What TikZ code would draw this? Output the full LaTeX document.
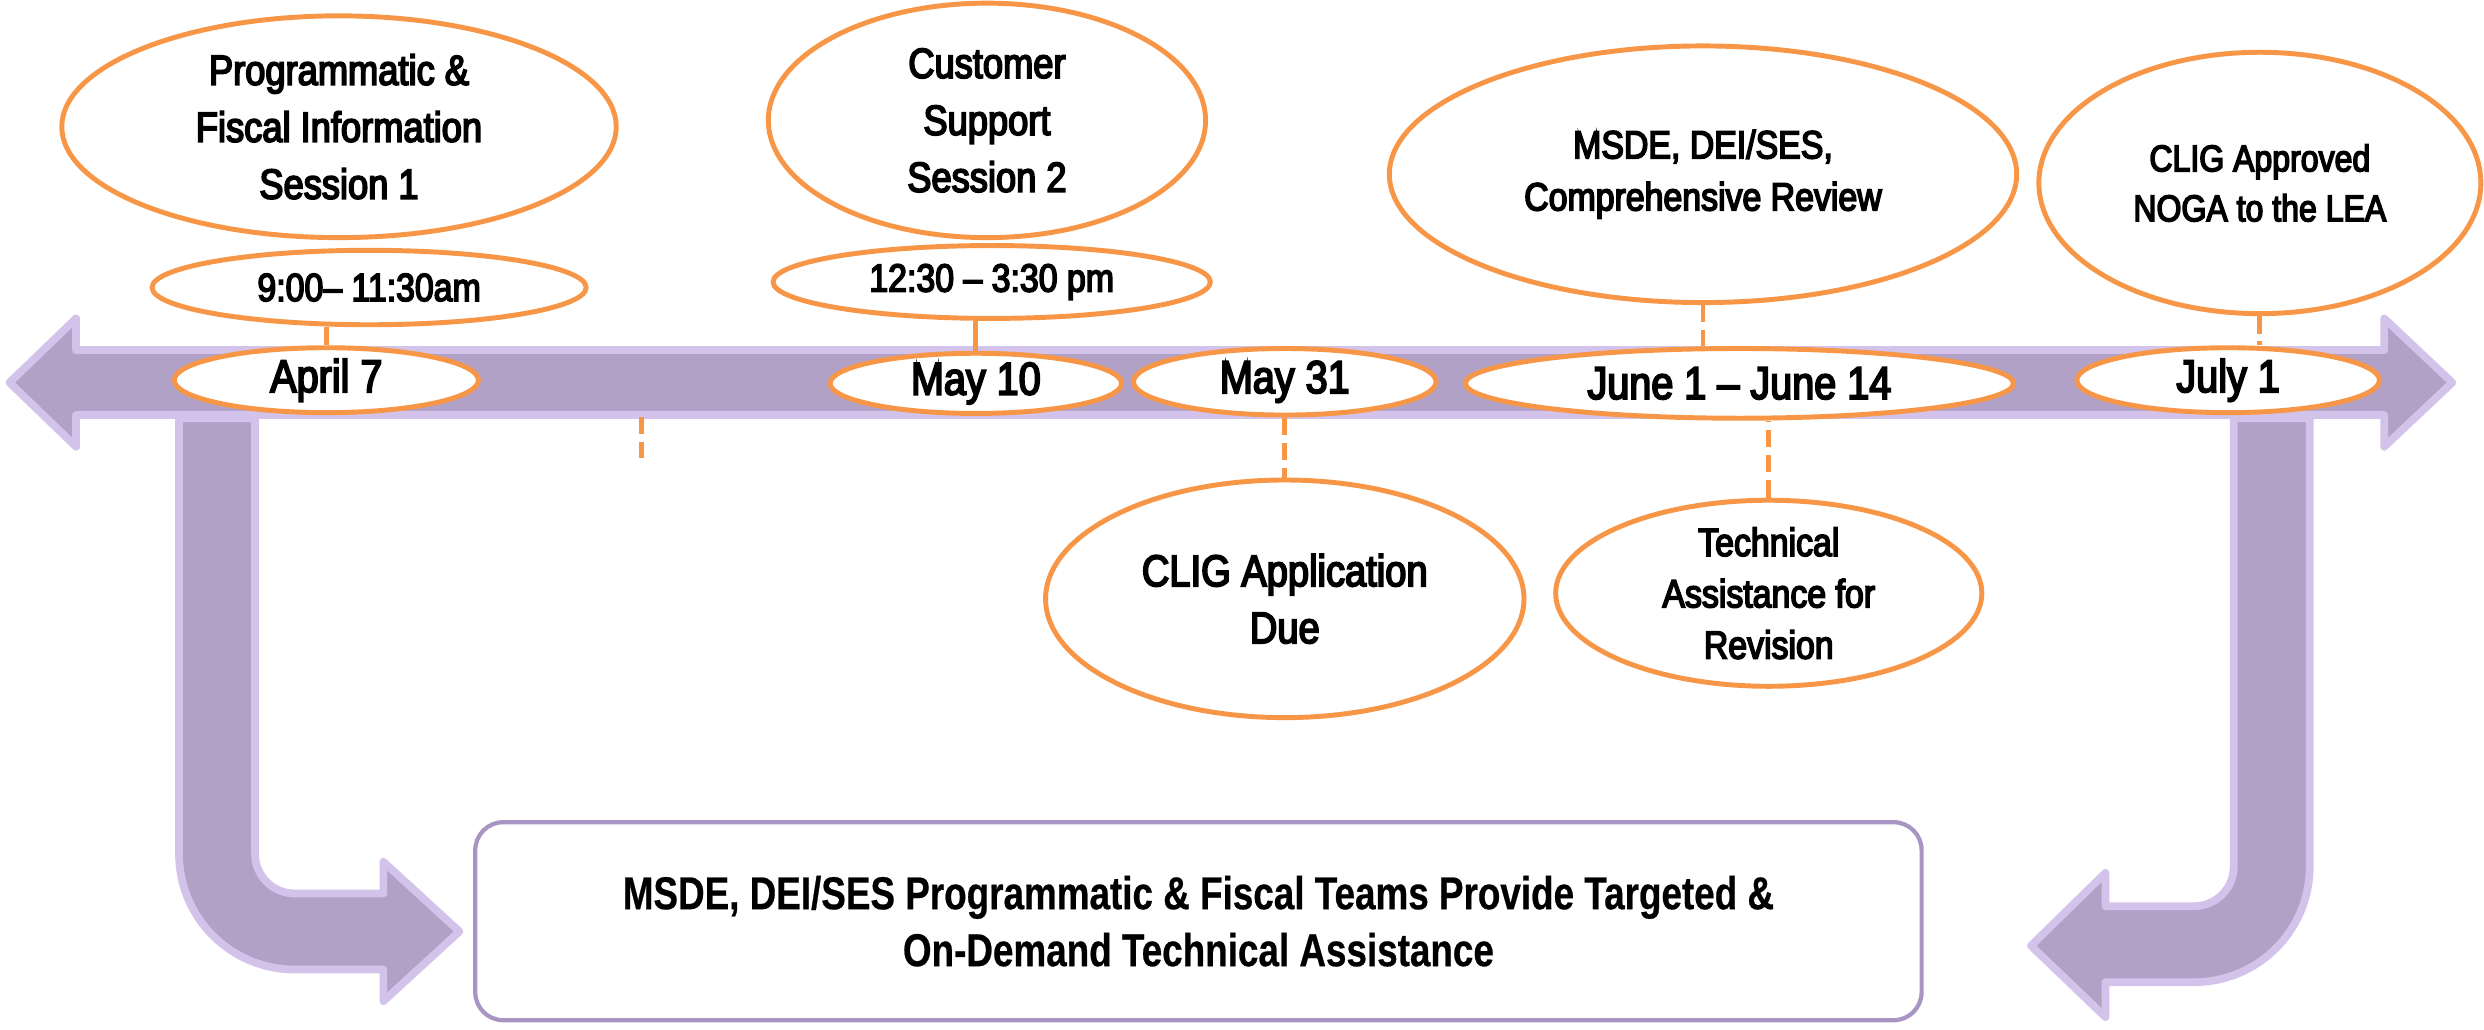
\documentclass[tikz,border=0pt]{standalone}
\usepackage{fontspec}
\setmainfont{Liberation Sans}[FakeStretch=0.86, UprightFeatures={FakeBold=4}, BoldFeatures={FakeStretch=0.8, FakeBold=0.5}]
\usetikzlibrary{shapes.geometric}
\definecolor{purp}{HTML}{B2A1C7}
\definecolor{glow}{HTML}{D3C3EA}
\definecolor{orng}{HTML}{F79646}
\definecolor{boxline}{HTML}{A895C4}
\begin{document}
\begin{tikzpicture}[x=0.01584cm, y=0.01584cm,
  bigarrow/.style={fill=purp, draw=glow, line width=2.2pt, line join=round},
  ev/.style n args={4}{ellipse, draw=orng, line width=1.4pt, fill=white, inner sep=0pt,
     minimum width={2*#1*0.01584cm}, minimum height={2*#2*0.01584cm}, align=center,
     font=\fontsize{#3}{#4}\selectfont},
  conn/.style={draw=orng, line width=1.4pt},
  dconn/.style={draw=orng, line width=1.4pt, dash pattern=on 0.174cm off 0.079cm},
  tabox/.style={draw=boxline, line width=1.2pt, rounded corners=0.28cm, fill=white,
     minimum width={913*0.01584cm}, minimum height={125*0.01584cm}, align=center,
     font=\bfseries\fontsize{13.1}{16.2}\selectfont}]
\useasboundingbox (0,0) rectangle (1568,650);

% bent arrows
\path[bigarrow] (113,386) -- (161,386) -- (161,111)
  arc[start angle=180, end angle=270, radius=0.396cm] -- (242,86) -- (242,106)
  -- (290,62) -- (242,18) -- (242,38) -- (186,38)
  arc[start angle=270, end angle=180, radius=1.156cm] -- cycle;
\path[bigarrow] (1458,386) -- (1410,386) -- (1410,103)
  arc[start angle=0, end angle=-90, radius=0.396cm] -- (1329,78) -- (1329,99)
  -- (1282,53) -- (1329,8) -- (1329,30) -- (1385,30)
  arc[start angle=-90, end angle=0, radius=1.156cm] -- cycle;

% main timeline arrow
\path[bigarrow] (6,408.5) -- (48,449) -- (48,429) -- (1505,429) -- (1505,449)
  -- (1548,408.5) -- (1505,368) -- (1505,388) -- (48,388) -- (48,368) -- cycle;

% bottom box
\node[tabox] (team) at (756.5,68.5) {MSDE, DEI/SES Programmatic \& Fiscal Teams Provide Targeted \&\\On-Demand Technical Assistance};

% events
\node[ev={175}{70}{12}{16.2}] (prog) at (214,570) {Programmatic \&\\Fiscal Information\\Session 1};
\node[ev={137}{23.5}{11.2}{13}] (t1) at (233,468.5) {9:00– 11:30am};
\node[ev={96}{20.5}{13.1}{15}] (apr) at (206,410) {April 7};
\node[ev={138}{74}{12}{16.2}] (cust) at (623,574) {Customer\\Support\\Session 2};
\node[ev={138}{23}{11.2}{13}] (t2) at (626,472) {12:30 – 3:30 pm};
\node[ev={92}{19}{13.1}{15}] (may10) at (616,408) {May 10};
\node[ev={95.5}{21}{13.1}{15}] (may31) at (811,409) {May 31};
\node[ev={151}{75}{12.6}{16.2}] (due) at (811,272) {CLIG Application\\Due};
\node[ev={173}{22}{13.1}{15}] (june) at (1098,408) {June 1 – June 14};
\node[ev={198}{81}{11.2}{14.8}] (rev) at (1075,540) {MSDE, DEI/SES,\\Comprehensive Review};
\node[ev={134.5}{57}{11.2}{14.6}] (tarev) at (1116.5,275.5) {Technical\\Assistance for\\Revision};
\node[ev={139.5}{82.5}{10.6}{14.2}] (noga) at (1426.5,534.5) {CLIG Approved\\NOGA to the LEA};
\node[ev={95.5}{20.5}{13.1}{15}] (jul) at (1406.5,410) {July 1};

% connectors
\draw[conn] (apr.north) -- (apr.north |- t1.south);
\draw[conn] (may10.north) -- (may10.north |- t2.south);
\draw[dconn] (rev.south) -- (rev.south |- june.north);
\draw[dconn] (may31.south) -- (due.north);
\draw[dconn] (tarev.north) -- (tarev.north |- june.south);
\draw[dconn] (noga.south) -- (noga.south |- jul.north);
\coordinate (s1) at (405,387);
\coordinate (s2) at (405,361);
\draw[dconn] (s1) -- (s2);
\end{tikzpicture}
\end{document}
